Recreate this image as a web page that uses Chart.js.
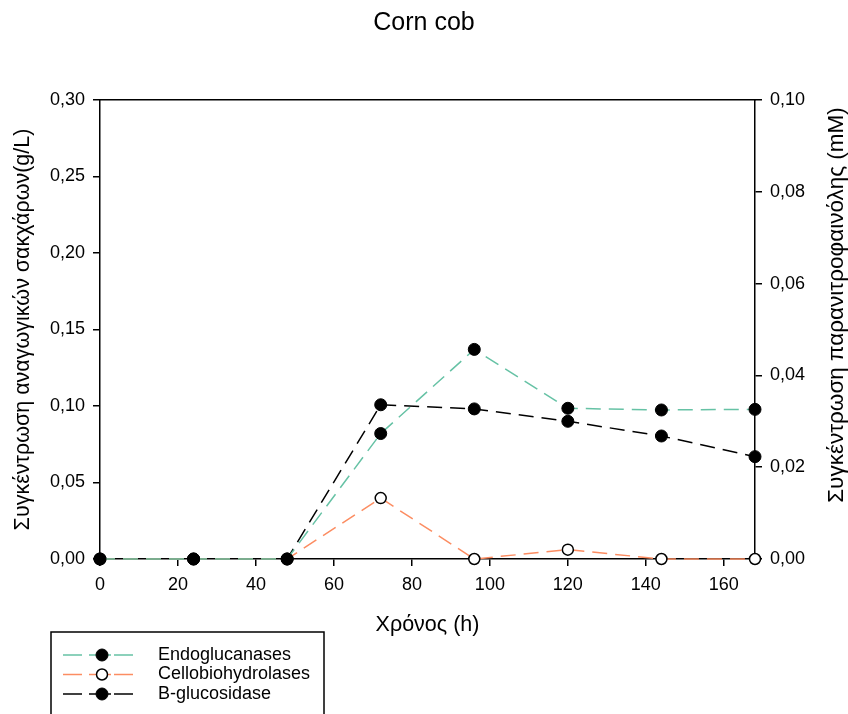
<!DOCTYPE html>
<html>
<head>
<meta charset="utf-8">
<script src="https://cdn.jsdelivr.net/npm/chart.js@4.4.1/dist/chart.umd.min.js"></script>
<style>
    html, body { margin: 0; padding: 0; background: #fff; }
    #wrap { width: 848px; height: 714px; }
</style>
</head>
<body>
<div id="wrap"><canvas id="chart" width="848" height="714"></canvas></div>
<script>
// Sampling times (h)
const hours = [0, 24, 48, 72, 96, 120, 144, 168];

// Reducing sugars (g/L) - left axis
const endoglucanases = [0, 0, 0, 0.082, 0.137, 0.0985, 0.0974, 0.0978];
const cellobiohydrolases = [0, 0, 0, 0.0398, 0, 0.0061, 0, 0];

// p-nitrophenol (mM) - right axis
const bGlucosidase = [0, 0, 0, 0.0336, 0.0327, 0.0300, 0.0268, 0.0223];

// Tick labels
const xTicks = [0, 20, 40, 60, 80, 100, 120, 140, 160];
const leftTicks = [0, 0.05, 0.10, 0.15, 0.20, 0.25, 0.30];
const rightTicks = [0, 0.02, 0.04, 0.06, 0.08, 0.10];

const seriesNames = ['Endoglucanases', 'Cellobiohydrolases', 'B-glucosidase'];
const chartTitle = 'Corn cob';
const xTitle = 'Χρόνος (h)';
const leftTitle = 'Συγκέντρωση αναγωγικών σακχάρων(g/L)';
const rightTitle = 'Συγκέντρωση παρανιτροφαινόλης (mM)';

const FONT = '"Liberation Sans", Arial, sans-serif';
const GREEN = '#66c2a5';
const ORANGE = '#fc8d62';
const BLACK = '#000000';
const DASH = [15, 8];

function toPoints(values) {
    return hours.map((h, i) => ({ x: h, y: values[i] }));
}

function comma(v) {
    return Number(v).toFixed(2).replace('.', ',');
}

function fixedTicks(list) {
    return scale => { scale.ticks = list.map(v => ({ value: v })); };
}

// Right axis title (reads bottom to top) and the boxed legend
const extrasPlugin = {
    id: 'extras',
    afterDraw(chart) {
        const ctx = chart.ctx;
        const area = chart.chartArea;

        ctx.save();
        ctx.fillStyle = '#000';
        ctx.font = '22.5px ' + FONT;
        ctx.textAlign = 'center';
        ctx.textBaseline = 'middle';
        ctx.translate(chart.width - 11, area.top + 205);
        ctx.rotate(-Math.PI / 2);
        ctx.fillText(rightTitle, 0, 0);
        ctx.restore();

        // legend box, cut by the bottom edge like the original
        ctx.save();
        ctx.strokeStyle = '#000';
        ctx.lineWidth = 1.5;
        ctx.strokeRect(51, 632, 273, 100);

        const rows = [655, 674.5, 694];
        chart.data.datasets.forEach((ds, i) => {
            const y = rows[i];
            ctx.strokeStyle = ds.borderColor;
            ctx.lineWidth = 1.5;
            ctx.setLineDash([]);
            [[63, 82], [89, 96], [108, 111], [114, 133]].forEach(seg => {
                ctx.beginPath();
                ctx.moveTo(seg[0], y);
                ctx.lineTo(seg[1], y);
                ctx.stroke();
            });
            ctx.beginPath();
            ctx.arc(102, y, ds.pointRadius, 0, Math.PI * 2);
            ctx.fillStyle = ds.pointBackgroundColor;
            ctx.fill();
            ctx.lineWidth = ds.pointBorderWidth;
            ctx.strokeStyle = ds.pointBorderColor;
            ctx.stroke();

            ctx.fillStyle = '#000';
            ctx.font = '18px ' + FONT;
            ctx.textAlign = 'left';
            ctx.textBaseline = 'middle';
            ctx.fillText(ds.label, 158, y);
        });
        ctx.restore();
    }
};

const axisGrid = {
    drawOnChartArea: false,
    drawTicks: true,
    tickLength: 7,
    color: '#000',
    lineWidth: 1.5
};

new Chart(document.getElementById('chart'), {
    type: 'line',
    data: {
        datasets: [
            {
                label: seriesNames[0],
                data: toPoints(endoglucanases),
                yAxisID: 'y',
                borderColor: GREEN,
                borderWidth: 1.5,
                borderDash: DASH,
                pointRadius: 6,
                pointBackgroundColor: BLACK,
                pointBorderColor: BLACK,
                pointBorderWidth: 1,
                clip: false
            },
            {
                label: seriesNames[1],
                data: toPoints(cellobiohydrolases),
                yAxisID: 'y',
                borderColor: ORANGE,
                borderWidth: 1.5,
                borderDash: DASH,
                pointRadius: 5.5,
                pointBackgroundColor: '#ffffff',
                pointBorderColor: BLACK,
                pointBorderWidth: 1.5,
                clip: false
            },
            {
                label: seriesNames[2],
                data: toPoints(bGlucosidase),
                yAxisID: 'y2',
                borderColor: BLACK,
                borderWidth: 1.5,
                borderDash: DASH,
                pointRadius: 6,
                pointBackgroundColor: BLACK,
                pointBorderColor: BLACK,
                pointBorderWidth: 1,
                clip: false
            }
        ]
    },
    options: {
        responsive: false,
        animation: false,
        devicePixelRatio: 1,
        layout: { padding: 0 },
        plugins: {
            legend: { display: false },
            tooltip: { enabled: false },
            title: {
                display: true,
                text: chartTitle,
                color: '#000',
                font: { family: FONT, size: 25, weight: 'normal' },
                padding: { top: 8, bottom: 62 }
            }
        },
        scales: {
            x: {
                type: 'linear',
                position: 'bottom',
                min: 0,
                max: 168,
                afterBuildTicks: fixedTicks(xTicks),
                afterFit: s => { s.height = 155; },
                border: { color: '#000', width: 1.5 },
                grid: axisGrid,
                ticks: {
                    color: '#000',
                    font: { family: FONT, size: 18 },
                    padding: 8,
                    maxRotation: 0,
                    autoSkip: false
                },
                title: {
                    display: true,
                    text: xTitle,
                    color: '#000',
                    font: { family: FONT, size: 21.5 },
                    padding: { top: 0, bottom: 76 }
                }
            },
            xTop: {
                type: 'linear',
                position: 'top',
                min: 0,
                max: 168,
                afterFit: s => { s.height = 0; },
                border: { color: '#000', width: 1.5 },
                grid: { display: false },
                ticks: { display: false }
            },
            y: {
                position: 'left',
                min: 0,
                max: 0.3,
                afterBuildTicks: fixedTicks(leftTicks),
                afterFit: s => { s.width = 100; },
                border: { color: '#000', width: 1.5 },
                grid: axisGrid,
                ticks: {
                    color: '#000',
                    font: { family: FONT, size: 18 },
                    padding: 8,
                    callback: v => comma(v)
                },
                title: {
                    display: true,
                    text: leftTitle,
                    color: '#000',
                    font: { family: FONT, size: 21.5 },
                    padding: { top: 10, bottom: 0 }
                }
            },
            y2: {
                position: 'right',
                min: 0,
                max: 0.1,
                afterBuildTicks: fixedTicks(rightTicks),
                afterFit: s => { s.width = 93; },
                border: { color: '#000', width: 1.5 },
                grid: axisGrid,
                ticks: {
                    color: '#000',
                    font: { family: FONT, size: 18 },
                    padding: 8,
                    callback: v => comma(v)
                }
            }
        }
    },
    plugins: [extrasPlugin]
});
</script>
</body>
</html>
